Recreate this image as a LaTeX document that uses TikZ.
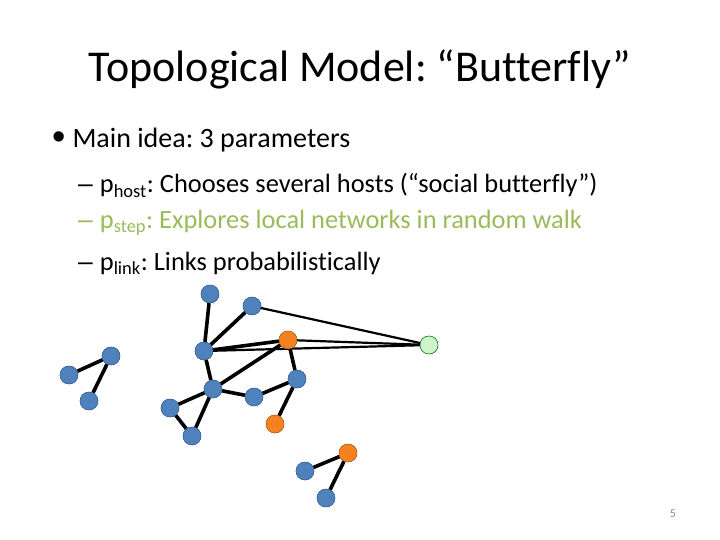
\documentclass[tikz,border=0pt]{standalone}
\usepackage{fontspec}
\setmainfont{Carlito}[Ligatures={NoCommon}]
\newfontfamily\markfont{Liberation Sans}
\usepackage{xcolor}
\usepackage{tikz}
\definecolor{nodeblue}{HTML}{4F81BD}
\definecolor{nodeline}{HTML}{385D8A}
\definecolor{hostorange}{HTML}{F58220}
\definecolor{butterflygreen}{HTML}{CCF5CC}
\definecolor{stepgreen}{HTML}{9BBB59}
\definecolor{pagegray}{HTML}{898989}
\frenchspacing

\begin{document}
\begin{tikzpicture}[x=1pt, y=-1pt,
    vertex/.style={circle, draw=nodeline, fill=nodeblue, minimum size=18pt, inner sep=0pt},
    hostv/.style={vertex, fill=hostorange, draw=hostorange!70!black},
    newv/.style={vertex, fill=butterflygreen, draw=green!40!black},
    link/.style={line width=3.6pt},
    farlink/.style={line width=2.2pt},
    subitem/.style={anchor=base west, inner sep=0pt, font=\fontsize{26.4}{30}\selectfont}
]
  \useasboundingbox (0,0) rectangle (720,540);

  % Title
  \node[anchor=base, font=\fontsize{44}{50}\selectfont] (title) at (360,82) {Topological Model: “Butterfly”};

  % Bullets
  \node[anchor=base west, font=\fontsize{28}{32}\selectfont, inner sep=0pt] (bullet) at (52,148) {\raisebox{-1.5pt}{\markfont\fontsize{38}{38}\selectfont •}\hspace{7pt}Main idea: 3 parameters};
  \node[subitem] (phost) at (78,193) {{\markfont –}\hspace{7pt}p\textsubscript{host}: Chooses several hosts (“social butterfly”)};
  \node[subitem, text=stepgreen] (pstep) at (78,229) {{\markfont –}\hspace{7pt}p\textsubscript{step}: Explores local networks in random walk};
  \node[subitem] (plink) at (78,270) {{\markfont –}\hspace{7pt}p\textsubscript{link}: Links probabilistically};

  % Page number
  \node[font=\fontsize{12}{14}\selectfont, text=pagegray] (page) at (673,514) {5};

  % Main component
  \node[vertex] (top) at (210,294) {};
  \node[vertex] (upper) at (252,306) {};
  \node[vertex] (hub) at (204,351) {};
  \node[hostv] (hostA) at (288,340) {};
  \node[vertex] (mid) at (213,389) {};
  \node[vertex] (right) at (297,379) {};
  \node[vertex] (low) at (254,397) {};
  \node[vertex] (leftA) at (170,408) {};
  \node[vertex] (leftB) at (192,436) {};
  \node[hostv] (hostB) at (275,424) {};

  % New node (the butterfly)
  \node[newv] (fly) at (429,345) {};

  % Left component
  \node[vertex] (pairA) at (111,356) {};
  \node[vertex] (pairB) at (69,375) {};
  \node[vertex] (pairC) at (89,401) {};

  % Bottom component
  \node[hostv] (hostC) at (348,453) {};
  \node[vertex] (botA) at (305,471) {};
  \node[vertex] (botB) at (326,498) {};

  % Edges
  \draw[link] (top) -- (hub);
  \draw[link] (upper) -- (hub);
  \draw[link] (hub) -- (hostA);
  \draw[link] (hub) -- (mid);
  \draw[link] (hostA) -- (mid);
  \draw[link] (hostA) -- (right);
  \draw[link] (right) -- (low);
  \draw[link] (right) -- (hostB);
  \draw[link] (mid) -- (low);
  \draw[link] (mid) -- (leftA);
  \draw[link] (mid) -- (leftB);
  \draw[link] (leftA) -- (leftB);
  \draw[link] (pairA) -- (pairB);
  \draw[link] (pairA) -- (pairC);
  \draw[link] (hostC) -- (botA);
  \draw[link] (hostC) -- (botB);

  % Links of the butterfly
  \draw[farlink] (upper) -- (fly);
  \draw[farlink] (hostA) -- (fly);
  \draw[farlink] (hub) -- (fly);

  % Redraw nodes on top
  \foreach \n/\s in {top/vertex, upper/vertex, hub/vertex, hostA/hostv, mid/vertex, right/vertex, low/vertex, leftA/vertex, leftB/vertex, hostB/hostv, fly/newv, pairA/vertex, pairB/vertex, pairC/vertex, hostC/hostv, botA/vertex, botB/vertex}
    \node[\s] at (\n) {};
\end{tikzpicture}
\end{document}
